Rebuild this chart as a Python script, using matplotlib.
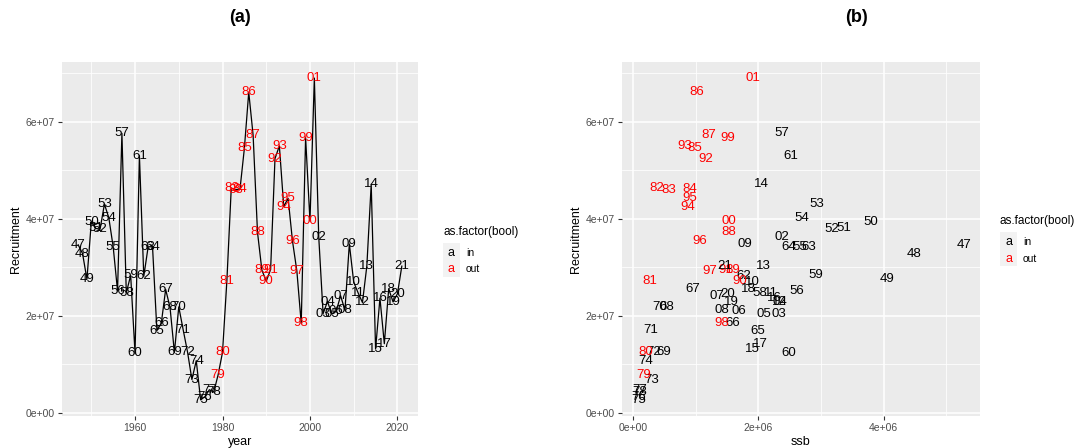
import numpy as np
import matplotlib.pyplot as plt
from matplotlib.patches import Rectangle

plt.rcParams['font.family'] = ['Liberation Sans', 'DejaVu Sans']

# data
years = list(range(1947, 2022))
# recruitment in units of 1e7
recruit_e7 = [3.46, 3.28, 2.75, 3.93, 3.80, 3.78, 4.30, 4.02, 3.42, 2.51,
              5.76, 2.47, 2.83, 1.22, 5.30, 2.81, 3.42, 3.42, 1.69, 1.84,
              2.54, 2.17, 1.24, 2.18, 1.71, 1.25, 0.68, 1.07, 0.26, 0.33,
              0.47, 0.42, 0.78, 1.24, 2.72, 4.63, 4.60, 4.61, 5.45, 6.61,
              5.72, 3.72, 2.94, 2.71, 2.95, 5.24, 5.50, 4.25, 4.42, 3.54,
              2.92, 1.84, 5.67, 3.95, 6.90, 3.63, 2.04, 2.29, 2.03, 2.09,
              2.41, 2.11, 3.48, 2.69, 2.47, 2.27, 3.02, 4.71, 1.31, 2.36,
              1.42, 2.55, 2.28, 2.45, 3.02]
# spawning stock biomass in units of 1e6
ssb_e6 = [5.28, 4.48, 4.06, 3.80, 3.36, 3.17, 2.94, 2.69, 2.66, 2.62,
          2.37, 2.02, 2.91, 2.49, 2.52, 1.76, 2.80, 2.49, 1.99, 1.59,
          0.95, 0.53, 0.48, 0.42, 0.28, 0.32, 0.29, 0.20, 0.09, 0.08,
          0.10, 0.11, 0.17, 0.20, 0.27, 0.37, 0.56, 0.90, 0.99, 1.02,
          1.20, 1.52, 1.59, 1.70, 1.48, 1.16, 0.82, 0.875, 0.91, 1.06,
          1.23, 1.41, 1.51, 1.52, 1.91, 2.38, 2.32, 2.35, 2.08, 1.69,
          1.33, 1.42, 1.78, 1.91, 2.20, 2.33, 2.08, 2.05, 1.91, 2.25,
          2.03, 1.84, 1.57, 1.51, 1.46]
out_first, out_last = 1979, 2001

recruit = np.array(recruit_e7) * 1e7
ssb = np.array(ssb_e6) * 1e6
labels = ["%02d" % (y % 100) for y in years]
colors = ["red" if out_first <= y <= out_last else "black" for y in years]

W, H = 1086, 448
fig = plt.figure(figsize=(W / 100, H / 100), dpi=100)

GRID_BG = "#EBEBEB"
TICK_COL = "#4D4D4D"


def px_axes(left, right, top, bottom):
    return fig.add_axes([left / W, 1 - bottom / H, (right - left) / W, (bottom - top) / H])


def expand(vals, frac=0.05):
    lo, hi = min(vals), max(vals)
    d = (hi - lo) * frac
    return lo - d, hi + d


def gg_style(ax, xmaj, xmin, ymaj, ymin, xfmt, yfmt):
    ax.set_facecolor(GRID_BG)
    for s in ax.spines.values():
        s.set_visible(False)
    ax.set_xticks(xmaj)
    ax.set_xticks(xmin, minor=True)
    ax.set_yticks(ymaj)
    ax.set_yticks(ymin, minor=True)
    ax.set_xticklabels([xfmt(v) for v in xmaj])
    ax.set_yticklabels([yfmt(v) for v in ymaj])
    ax.grid(True, which="major", color="white", lw=1.1)
    ax.grid(True, which="minor", color="white", lw=0.55)
    ax.set_axisbelow(True)
    ax.tick_params(which="major", length=3, width=0.8, color="#333333",
                   labelsize=7.5, labelcolor=TICK_COL, pad=2)
    ax.tick_params(which="minor", length=0)


def sci(v):
    if v == 0:
        return "0e+00"
    e = int(np.floor(np.log10(abs(v))))
    return "%de+%02d" % (round(v / 10 ** e), e)


def legend(x, y):
    fig.text(x / W, 1 - y / H, "as.factor(bool)", fontsize=8.5, va="center", ha="left")
    fig.patches.append(Rectangle((x / W, 1 - (y + 45) / H), 17 / W, 34 / H,
                                 transform=fig.transFigure, facecolor="#F2F2F2",
                                 edgecolor="none"))
    fig.text((x + 8.5) / W, 1 - (y + 21) / H, "a", fontsize=9, ha="center", va="center")
    fig.text((x + 8.5) / W, 1 - (y + 37.5) / H, "a", fontsize=9, ha="center", va="center",
             color="red")
    fig.text((x + 23) / W, 1 - (y + 21) / H, "in", fontsize=7.5, va="center")
    fig.text((x + 23) / W, 1 - (y + 37.5) / H, "out", fontsize=7.5, va="center")


# (a) recruitment over time
ax1 = px_axes(62, 418, 62, 416)
ax1.plot(years, recruit, color="black", lw=0.9, zorder=2)
for x, y, t, c in zip(years, recruit, labels, colors):
    ax1.text(x, y, t, color=c, fontsize=9.5, ha="center", va="center", zorder=3)
ax1.set_xlim(*expand(years))
ax1.set_ylim(*expand(recruit))
gg_style(ax1, [1960, 1980, 2000, 2020], [1950, 1970, 1990, 2010],
         [0, 2e7, 4e7, 6e7], [1e7, 3e7, 5e7, 7e7], lambda v: "%d" % v, sci)
ax1.set_xlabel("year", fontsize=9, labelpad=2)
ax1.set_ylabel("Recruitment", fontsize=9, labelpad=3)
fig.text(240 / W, 1 - 18 / H, "(a)", fontsize=13, fontweight="bold", ha="center", va="center")
legend(443, 232)

# (b) recruitment vs ssb
ax2 = px_axes(622, 980, 62, 416)
for x, y, t, c in zip(ssb, recruit, labels, colors):
    ax2.text(x, y, t, color=c, fontsize=9.5, ha="center", va="center", zorder=3)
ax2.set_xlim(*expand(ssb))
ax2.set_ylim(*expand(recruit))
gg_style(ax2, [0, 2e6, 4e6], [1e6, 3e6, 5e6],
         [0, 2e7, 4e7, 6e7], [1e7, 3e7, 5e7, 7e7], sci, sci)
ax2.set_xlabel("ssb", fontsize=9, labelpad=2)
ax2.set_ylabel("Recruitment", fontsize=9, labelpad=3)
fig.text(856 / W, 1 - 18 / H, "(b)", fontsize=13, fontweight="bold", ha="center", va="center")
legend(1000, 221)

fig.savefig("out.png", dpi=100)
